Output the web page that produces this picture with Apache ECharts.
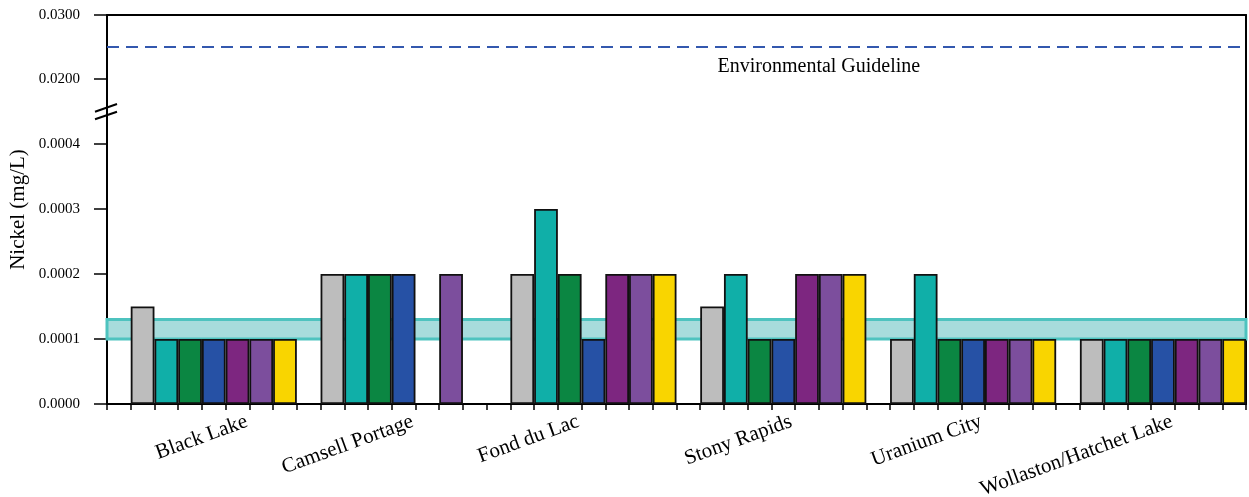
<!DOCTYPE html>
<html><head><meta charset="utf-8">
<script src="https://cdn.jsdelivr.net/npm/echarts@6/dist/echarts.min.js"></script>
<style>html,body{margin:0;padding:0;background:#fff}#c{width:1249px;height:497px}</style>
</head><body><div id="c"></div>
<script>
// ---- data ----
const categories = ['Black Lake', 'Camsell Portage', 'Fond du Lac', 'Stony Rapids', 'Uranium City', 'Wollaston/Hatchet Lake'];
const seriesNames = ['Sample 1', 'Sample 2', 'Sample 3', 'Sample 4', 'Sample 5', 'Sample 6', 'Sample 7'];
const sample1 = [0.00015, 0.0002, 0.0002, 0.00015, 0.0001, 0.0001];
const sample2 = [0.0001, 0.0002, 0.0003, 0.0002, 0.0002, 0.0001];
const sample3 = [0.0001, 0.0002, 0.0002, 0.0001, 0.0001, 0.0001];
const sample4 = [0.0001, 0.0002, 0.0001, 0.0001, 0.0001, 0.0001];
const sample5 = [0.0001, null, 0.0002, 0.0002, 0.0001, 0.0001];
const sample6 = [0.0001, 0.0002, 0.0002, 0.0002, 0.0001, 0.0001];
const sample7 = [0.0001, null, 0.0002, 0.0002, 0.0001, 0.0001];
const lowerTicks = [0, 0.0001, 0.0002, 0.0003, 0.0004];
const upperTicks = [0.02, 0.03];
const guideline = 0.025;
const guidelineLabel = 'Environmental Guideline';
const bandRange = [0.0001, 0.00013];
const yTitle = 'Nickel (mg/L)';

// ---- styles / layout ----
const colors = ['#BDBDBD', '#10AFA8', '#0B8642', '#2651A5', '#7D2680', '#7C4E9D', '#F9D500'];
const FONT = '"Liberation Serif", "Times New Roman", serif';
const L = 107, R = 3, TOP = 15, BRK = 112, BOTTOM = 93;
const labelNudge = [33, 9, -15, 8, 8, 9];

const allSeries = [sample1, sample2, sample3, sample4, sample5, sample6, sample7];
const perGroup = 8; // one empty slot + 7 bars
const slots = [];
categories.forEach((c, g) => { for (let k = 0; k < perGroup; k++) slots.push(c + '#' + k); });

const barSeries = allSeries.map((vals, i) => ({
  name: seriesNames[i],
  type: 'bar',
  xAxisIndex: 0, yAxisIndex: 0,
  barWidth: '100%', barGap: '-100%',
  z: 3,
  itemStyle: { color: colors[i], borderColor: '#111', borderWidth: 1.8 },
  data: slots.map((s, k) => {
    const g = Math.floor(k / perGroup), j = k % perGroup - 1;
    return (j === i && vals[g] != null) ? vals[g] : '-';
  })
}));
// band of background levels, drawn beneath the bars
barSeries[0].markArea = { silent: true, z: 1,
  itemStyle: { color: '#A7DCDC', borderColor: '#4EC3BF', borderWidth: 3 },
  data: [[{ yAxis: bandRange[0] }, { yAxis: bandRange[1] }]] };

const axisLineStyle = { color: '#000', width: 2 };
const chart = echarts.init(document.getElementById('c'));
chart.setOption({
  animation: false,
  backgroundColor: '#fff',
  textStyle: { fontFamily: FONT },
  grid: [
    { left: L, right: R, top: BRK, bottom: BOTTOM },
    { left: L, right: R, top: TOP, height: BRK - TOP }
  ],
  xAxis: [
    { type: 'category', gridIndex: 0, data: slots, boundaryGap: true,
      axisLine: { lineStyle: axisLineStyle },
      axisTick: { show: true, interval: 0, length: 6, lineStyle: { color: '#000', width: 1.5 } },
      axisLabel: { show: false }, splitLine: { show: false } },
    { type: 'value', gridIndex: 1, min: 0, max: 1, position: 'top',
      axisLine: { show: true, lineStyle: axisLineStyle }, axisTick: { show: false },
      axisLabel: { show: false }, splitLine: { show: false } }
  ],
  yAxis: [
    { type: 'value', gridIndex: 0, min: 0, max: 0.000449,
      axisLine: { show: true, lineStyle: axisLineStyle },
      axisTick: { show: true, length: 13, customValues: lowerTicks, lineStyle: { color: '#000', width: 1.5 } },
      axisLabel: { customValues: lowerTicks, margin: 27, color: '#000', fontSize: 15, fontFamily: FONT,
        formatter: v => v.toFixed(4) },
      splitLine: { show: false } },
    { type: 'value', gridIndex: 1, min: 0.01484, max: 0.03,
      axisLine: { show: true, lineStyle: axisLineStyle },
      axisTick: { show: true, length: 13, customValues: upperTicks, lineStyle: { color: '#000', width: 1.5 } },
      axisLabel: { customValues: upperTicks, margin: 27, color: '#000', fontSize: 15, fontFamily: FONT,
        formatter: v => v.toFixed(4) },
      splitLine: { show: false } },
    { type: 'value', gridIndex: 0, position: 'right', min: 0, max: 0.000449,
      axisLine: { show: true, lineStyle: axisLineStyle }, axisTick: { show: false },
      axisLabel: { show: false }, splitLine: { show: false } },
    { type: 'value', gridIndex: 1, position: 'right', min: 0.01484, max: 0.03,
      axisLine: { show: true, lineStyle: axisLineStyle }, axisTick: { show: false },
      axisLabel: { show: false }, splitLine: { show: false } }
  ],
  series: [
    { name: 'guideline', type: 'line', xAxisIndex: 1, yAxisIndex: 1, showSymbol: false, silent: true,
      lineStyle: { color: '#3358AE', width: 2, type: [12, 7] },
      data: [[0, guideline], [1, guideline]] },
    ...barSeries
  ]
});

// text and break marks placed from the axes' own scales
const y0 = chart.convertToPixel({ yAxisIndex: 0 }, 0);
const yGuide = chart.convertToPixel({ yAxisIndex: 1 }, guideline);
const yTop = chart.convertToPixel({ yAxisIndex: 1 }, 0.03);
const elems = [];
categories.forEach((name, g) => {
  const x = chart.convertToPixel({ xAxisIndex: 0 }, slots[g * perGroup + 4]);
  elems.push({ type: 'text', x: x + labelNudge[g], y: y0 + 17, rotation: 20 * Math.PI / 180,
    style: { text: name, font: '21px ' + FONT, fill: '#000', align: 'right', verticalAlign: 'middle',
      textAlign: 'right', textVerticalAlign: 'middle' } });
});
const plotRight = 1249 - R;
elems.push({ type: 'text', x: L + (plotRight - L) * 0.625, y: yGuide + 20,
  style: { text: guidelineLabel, font: '20px ' + FONT, fill: '#000', align: 'center', verticalAlign: 'middle',
    textAlign: 'center', textVerticalAlign: 'middle' } });
elems.push({ type: 'text', x: 18, y: (yTop + y0) / 2, rotation: Math.PI / 2,
  style: { text: yTitle, font: '21px ' + FONT, fill: '#000', align: 'center', verticalAlign: 'middle',
    textAlign: 'center', textVerticalAlign: 'middle' } });
[[-0.3, -8], [7.3, -0.3]].forEach(([a, b]) => {
  elems.push({ type: 'line', z: 10, shape: { x1: L - 12, y1: BRK + a, x2: L + 10, y2: BRK + b },
    style: { stroke: '#000', lineWidth: 2 } });
});
chart.setOption({ graphic: elems });
</script>
</body></html>
